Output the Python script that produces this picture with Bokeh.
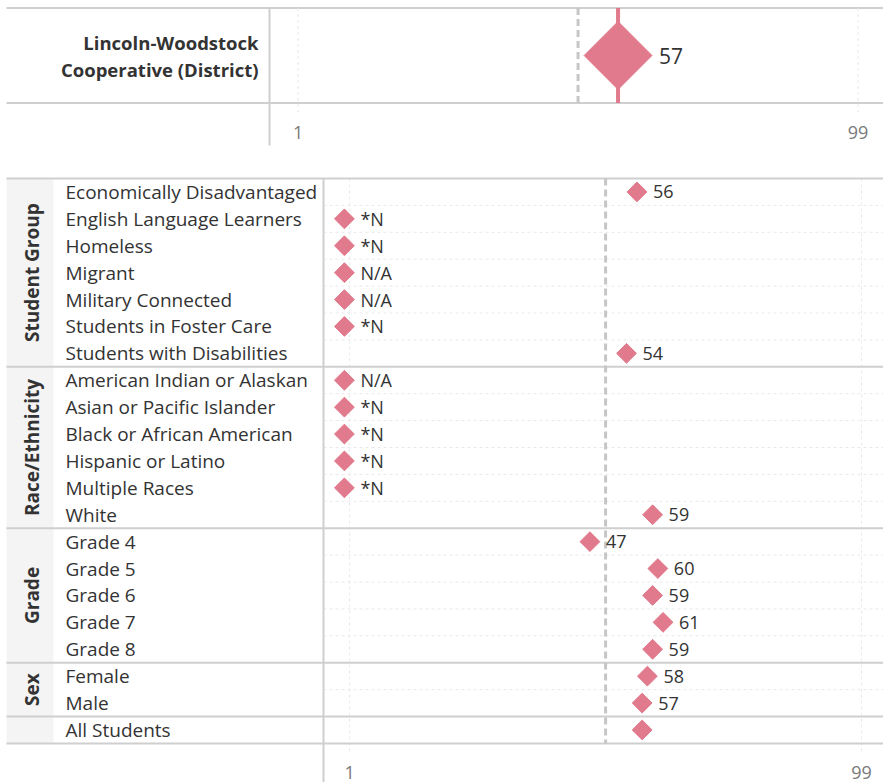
from math import pi
from bokeh.plotting import figure
from bokeh.layouts import column
from bokeh.models import Range1d, FixedTicker
from bokeh.core.properties import value
from bokeh.embed import file_html
from bokeh.resources import INLINE

# ---------------- data ----------------
district_name = ["Lincoln-Woodstock", "Cooperative (District)"]
district_value = 57
median_value = 50

group_names = ["Student Group", "Race/Ethnicity", "Grade", "Sex", ""]
student_group = ["Economically Disadvantaged", "English Language Learners", "Homeless",
                 "Migrant", "Military Connected", "Students in Foster Care",
                 "Students with Disabilities"]
student_group_vals = ["56", "*N", "*N", "N/A", "N/A", "*N", "54"]
race_ethnicity = ["American Indian or Alaskan", "Asian or Pacific Islander",
                  "Black or African American", "Hispanic or Latino", "Multiple Races", "White"]
race_ethnicity_vals = ["N/A", "*N", "*N", "*N", "*N", "59"]
grade = ["Grade 4", "Grade 5", "Grade 6", "Grade 7", "Grade 8"]
grade_vals = ["47", "60", "59", "61", "59"]
sex = ["Female", "Male"]
sex_vals = ["58", "57"]
all_students = ["All Students"]
all_students_vals = ["57"]
all_students_labels = [""]

tick_values = [1, 99]
MISSING_AT = 0  # where suppressed / not available groups are drawn

# ---------------- style ----------------
PINK = "#E07A8C"
BORDER = "#cfcfcf"
GRID = "#e9e9e9"
MEDIAN = "#c6c6c6"
TXT = "#333333"
FONT = "Open Sans"
W = 883

def make_x(scale, divider_px, plot_start=-4.0):
    x0 = plot_start - divider_px / scale
    return x0, x0 + W / scale, (lambda px: x0 + px / scale)

def make_y(fig_h, first_row_top, row_h):
    y = lambda px: -0.5 + (px - first_row_top) / row_h
    return y(fig_h), y(0), y

def base_fig(h, xr, yr):
    p = figure(width=W, height=h, x_range=xr, y_range=yr, output_backend="svg",
               toolbar_location=None, y_axis_location=None, min_border=0)
    p.outline_line_color = None
    p.grid.visible = False
    p.background_fill_color = "white"
    p.border_fill_color = "white"
    ax = p.xaxis[0]
    ax.ticker = FixedTicker(ticks=tick_values)
    ax.axis_line_color = None
    ax.major_tick_line_color = None
    ax.minor_tick_line_color = None
    ax.major_label_text_font = FONT
    ax.major_label_text_font_size = "18px"
    ax.major_label_text_color = "#7a7a7a"
    return p

# ================= top panel =================
TH = 160
t_x0, t_x1, txv = make_x(5.714, 269)
t_ys, t_ye, tyv = make_y(TH, 7.5, 95.0)
top = base_fig(TH, Range1d(t_x0, t_x1), Range1d(t_ys, t_ye))
top.xaxis[0].fixed_location = tyv(110)
top.xaxis[0].major_label_standoff = 9

# borders
top.segment(x0=[txv(6)] * 2, x1=[t_x1] * 2, y0=[-0.5, 0.5], y1=[-0.5, 0.5],
            line_color=BORDER, line_width=2)
top.segment(x0=[-4], x1=[-4], y0=[tyv(7)], y1=[tyv(145)], line_color=BORDER, line_width=2)
# faint gridlines
top.segment(x0=tick_values, x1=tick_values, y0=[-0.5] * 2, y1=[tyv(112)] * 2,
            line_color=GRID, line_width=1, line_dash="3 3")
# median and district line
top.segment(x0=[median_value], x1=[median_value], y0=[-0.5], y1=[0.5],
            line_color=MEDIAN, line_width=3, line_dash="7 4")
top.segment(x0=[district_value], x1=[district_value], y0=[-0.5], y1=[0.5],
            line_color=PINK, line_width=4)
top.scatter(x=[district_value], y=[0], marker="square", angle=pi / 4, size=48,
            fill_color=PINK, line_color=PINK)
top.text(x=[district_value], y=[0], text=[str(district_value)], x_offset=41,
         text_font=value(FONT), text_font_size="21px", text_color=TXT,
         text_baseline="middle", text_align="left")
dy = 13.5 / 95.0
top.text(x=[txv(258)] * 2, y=[-dy, dy], text=district_name,
         text_font=value(FONT), text_font_style="bold",
         text_font_size="18.5px", text_color=TXT, text_baseline="middle", text_align="right")

# ================= bottom panel =================
BH = 622
b_x0, b_x1, bxv = make_x(5.224, 323)
b_ys, b_ye, byv = make_y(BH, 18.0, 26.9)
bot = base_fig(BH, Range1d(b_x0, b_x1), Range1d(b_ys, b_ye))
bot.xaxis[0].fixed_location = byv(590)
bot.xaxis[0].major_label_standoff = 9

sections = [student_group, race_ethnicity, grade, sex, all_students]
section_vals = [student_group_vals, race_ethnicity_vals, grade_vals, sex_vals, all_students_vals]
rows, vals, bounds, centers = [], [], [-0.5], []
for names, vs in zip(sections, section_vals):
    start = len(rows)
    rows += names
    vals += vs
    centers.append(start + (len(names) - 1) / 2)
    bounds.append(len(rows) - 0.5)
labels = student_group_vals + race_ethnicity_vals + grade_vals + sex_vals + all_students_labels
ypos = list(range(len(rows)))
xpos = [float(v) if v.replace(".", "").isdigit() else MISSING_AT for v in vals]
n = len(rows)

# group band
bot.quad(left=[bxv(6)], right=[bxv(53)], top=[-0.5], bottom=[n - 0.5],
         fill_color="#f4f4f4", line_color=None)
# faint row gridlines (within sections)
inner = [i + 0.5 for i in range(n - 1) if (i + 0.5) not in bounds]
bot.segment(x0=[-4] * len(inner), x1=[b_x1] * len(inner), y0=inner, y1=inner,
            line_color=GRID, line_width=1, line_dash="3 3")
bot.segment(x0=tick_values, x1=tick_values, y0=[-0.5] * 2, y1=[byv(592)] * 2,
            line_color=GRID, line_width=1, line_dash="3 3")
# section borders
bot.segment(x0=[bxv(6)] * len(bounds), x1=[b_x1] * len(bounds), y0=bounds, y1=bounds,
            line_color=BORDER, line_width=2)
bot.segment(x0=[-4], x1=[-4], y0=[-0.5], y1=[byv(BH)], line_color=BORDER, line_width=2)
# median
bot.segment(x0=[median_value], x1=[median_value], y0=[-0.5], y1=[n - 0.5],
            line_color=MEDIAN, line_width=3, line_dash="7 4")
# diamonds + labels
bot.scatter(x=xpos, y=ypos, marker="square", angle=pi / 4, size=14,
            fill_color=PINK, line_color=PINK)
bot.text(x=xpos, y=ypos, text=labels, x_offset=16, text_font=value(FONT),
         text_font_size="18px", text_color=TXT, text_baseline="middle", text_align="left")
# row labels
bot.text(x=[bxv(65)] * n, y=ypos, text=rows, text_font=value(FONT), text_font_size="19px",
         text_color=TXT, text_baseline="middle", text_align="left")
# group labels
bot.text(x=[bxv(31)] * len(group_names), y=centers, text=group_names, angle=pi / 2,
         text_font=value(FONT), text_font_style="bold", text_font_size="19px",
         text_color=TXT, text_baseline="middle", text_align="center")

layout = column(top, bot, spacing=0)
open("out.html", "w").write(file_html(layout, INLINE))
